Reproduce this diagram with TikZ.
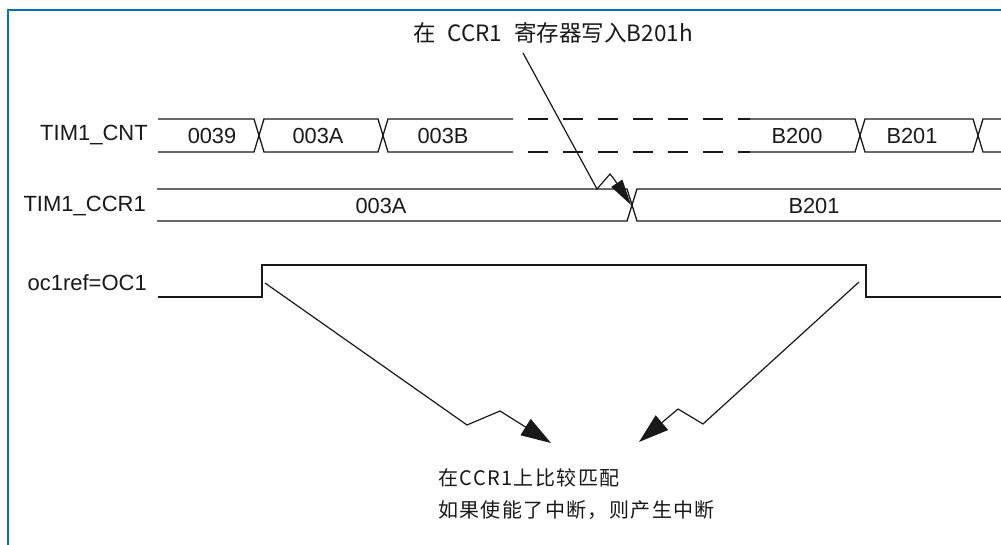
\documentclass[tikz,border=0pt]{standalone}
\usepackage{fontspec}
\setmainfont{Liberation Sans}
\newfontfamily\cjk{Noto Sans CJK SC}
\newfontfamily\cjkwide[LetterSpace=7]{Noto Sans CJK SC}
\usetikzlibrary{arrows.meta}
\definecolor{frameblue}{RGB}{0,112,196}
\definecolor{ink}{RGB}{25,25,25}
\begin{document}
\begin{tikzpicture}[x=1pt,y=-1pt,
  bus/.style={draw=ink,line width=1.3pt,line join=miter},
  busdash/.style={draw=ink,line width=1.3pt,dash pattern=on 20pt off 15pt,dash phase=20pt},
  lvl/.style={draw=ink,line width=2pt},
  sig/.style={font=\fontsize{22}{26}\selectfont,text=ink,inner sep=0pt},
  val/.style={font=\fontsize{21.8}{25}\selectfont,text=ink,inner sep=0pt},
  note/.style={draw=ink,line width=1.2pt,line join=miter,-{Triangle[length=30pt,width=19pt]}},
  notesmall/.style={draw=ink,line width=1.2pt,line join=miter,-{Triangle[length=26pt,width=13pt]}},
  frame/.style={draw=frameblue,line width=2.5pt}]
\useasboundingbox (0,0) rectangle (1001,545);
\fill[white] (0,0) rectangle (1001,545);
% frame
\draw[frame] (8,545) -- (8,10) -- (1001,10);

% signal labels
\node[sig,anchor=east] (lcnt) at (148,135) {TIM1\_CNT};
\node[sig,anchor=east] (lccr) at (146,206) {TIM1\_CCR1};
\node[sig,anchor=east] (loc) at (147,283) {oc1ref=OC1};

% TIM1_CNT bus
\draw[bus] (158,119) -- (254,119) -- (264,152) -- (378,152) -- (388,119) -- (513,119);
\draw[bus] (158,152) -- (254,152) -- (264,119) -- (378,119) -- (388,152) -- (513,152);
\draw[busdash] (513,119) -- (750,119);
\draw[busdash] (513,152) -- (750,152);
\draw[bus] (750,119) -- (855,119) -- (865,152) -- (973,152) -- (983,119) -- (1001,119);
\draw[bus] (750,152) -- (855,152) -- (865,119) -- (973,119) -- (983,152) -- (1001,152);
\node[val] (v1) at (212,136) {0039};
\node[val] (v2) at (318,136) {003A};
\node[val] (v3) at (443,136) {003B};
\node[val] (v4) at (797,136) {B200};
\node[val] (v5) at (912,136) {B201};

% TIM1_CCR1 bus
\draw[bus] (157,189) -- (627,189) -- (637,221) -- (1001,221);
\draw[bus] (157,221) -- (627,221) -- (637,189) -- (1001,189);
\node[val] (c1) at (381,206) {003A};
\node[val] (c2) at (814,206) {B201};

% oc1ref level
\draw[lvl] (158,297) -- (262,297) -- (262,265) -- (866,265) -- (866,297) -- (1001,297);

% top note
\node[inner sep=0pt,text=ink] (ttop) at (553,33) {\cjk\fontsize{22.5}{26}\selectfont 在\hspace{12pt}CCR1\hspace{12pt}寄存器写入B201h};
\coordinate (ta) at (523,53);
\coordinate (tb) at (597,189);
\coordinate (tc) at (610,174);
\coordinate (td) at (614,179);
\coordinate (te) at (631,205);
\draw[draw=ink,line width=1.2pt] (ta) -- (tb) -- (tc) -- (td);
\draw[notesmall] (td) -- (te);

% bottom note
\node[inner sep=0pt,anchor=west,text=ink,align=left] (n1) at (438,478) {\cjkwide\fontsize{20}{24}\selectfont 在CCR1上比较匹配};
\node[inner sep=0pt,anchor=west,text=ink,align=left] (n2) at (438,510) {\cjkwide\fontsize{20}{24}\selectfont 如果使能了中断，则产生中断};

% left arrow
\coordinate (la) at (265,283);
\coordinate (lb) at (467,425);
\coordinate (lc) at (500,411);
\coordinate (ld) at (551,443);
\draw[draw=ink,line width=1.2pt] (la) -- (lb) -- (lc);
\draw[note] (lc) -- (ld);

% right arrow
\coordinate (ra) at (859,282);
\coordinate (rb) at (703,424);
\coordinate (rc) at (678,409);
\coordinate (rd) at (639,442);
\draw[draw=ink,line width=1.2pt] (ra) -- (rb) -- (rc);
\draw[note] (rc) -- (rd);
\end{tikzpicture}
\end{document}
